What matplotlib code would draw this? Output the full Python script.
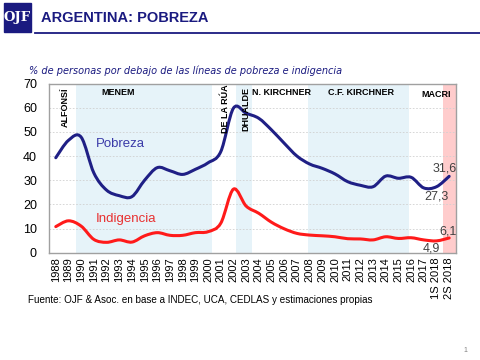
import numpy as np
import matplotlib
matplotlib.use("Agg")
import matplotlib.pyplot as plt
from matplotlib.path import Path
from matplotlib.patches import PathPatch, Rectangle

plt.rcParams['font.family'] = ['Liberation Sans', 'DejaVu Sans']

# data
years = [str(y) for y in range(1988, 2018)] + ['1S 2018', '2S 2018']
pobreza = [39.3, 46.5, 47.8, 33.0, 25.9, 23.6, 23.2, 30.0, 35.2, 33.9,
           32.4, 34.5, 37.2, 41.8, 59.8, 57.7, 55.6, 50.8, 45.3, 40.0,
           36.7, 34.9, 32.6, 29.4, 27.9, 27.3, 31.7, 30.8, 31.2, 26.8,
           27.3, 31.6]
indigencia = [10.8, 13.2, 11.0, 5.5, 4.3, 5.3, 4.4, 7.0, 8.3, 7.2,
              7.2, 8.3, 8.7, 12.2, 26.3, 19.3, 16.3, 12.6, 9.9, 8.0,
              7.3, 7.0, 6.6, 5.8, 5.7, 5.3, 6.6, 5.9, 6.2, 5.3,
              4.9, 6.1]

# governments (start, end in category index units)
bands = [(1.6, 12.3), (14.2, 15.5), (19.9, 27.8)]
macri_band = (30.5, 31.5)


def smooth_path(x, y):
    pts = np.column_stack([x, y]).astype(float)
    verts = [pts[0]]
    codes = [Path.MOVETO]
    n = len(pts)
    for i in range(n - 1):
        p0 = pts[i - 1] if i > 0 else pts[i]
        p1 = pts[i]
        p2 = pts[i + 1]
        p3 = pts[i + 2] if i + 2 < n else pts[i + 1]
        c1 = p1 + (p2 - p0) / 6.0
        c2 = p2 - (p3 - p1) / 6.0
        verts += [c1, c2, p2]
        codes += [Path.CURVE4] * 3
    return Path(verts, codes)


fig = plt.figure(figsize=(4.8, 3.6), dpi=100)
ax = fig.add_axes([0.103, 0.298, 0.846, 0.47])

x = np.arange(len(years))
for a, b in bands:
    ax.axvspan(a, b, color='#e6f3f9', lw=0, zorder=0)
ax.axvspan(*macri_band, color='#ffcccc', lw=0, zorder=0)

ax.add_patch(PathPatch(smooth_path(x, pobreza), fill=False,
                       ec='#1f1f85', lw=2.2, capstyle='round', zorder=3))
ax.add_patch(PathPatch(smooth_path(x, indigencia), fill=False,
                       ec='#ff1a1a', lw=2.2, capstyle='round', zorder=3))

ax.set_xlim(-0.5, 31.5)
ax.set_ylim(0, 70)
ax.set_yticks(range(0, 71, 10))
ax.set_xticks(x)
ax.set_xticklabels(years, rotation=90, fontsize=8)
ax.tick_params(axis='y', labelsize=9, length=0, pad=9)
ax.tick_params(axis='x', length=0, pad=3)
ax.grid(axis='y', color='#d0d0d0', lw=0.6, ls=(0, (2, 2)))
ax.set_axisbelow(True)
for s in ax.spines.values():
    s.set_color('#a0a0a0')
    s.set_linewidth(1)

# government labels
lab = dict(fontsize=6.5, fontweight='bold', color='black', zorder=4)
ax.text(0.75, 68.5, 'ALFONSÍ', rotation=90, ha='center', va='top', **lab)
ax.text(4.9, 68, 'MENEM', ha='center', va='top', **lab)
ax.text(13.35, 69.5, 'DE LA RÚA', rotation=90, ha='center', va='top', **lab)
ax.text(14.95, 68.5, 'DHUALDE', rotation=90, ha='center', va='top', **lab)
ax.text(17.75, 68, 'N. KIRCHNER', ha='center', va='top', **lab)
ax.text(24.05, 68, 'C.F. KIRCHNER', ha='center', va='top', **lab)
ax.text(30.0, 67.5, 'MACRI', ha='center', va='top', **lab)

ax.text(5.1, 45, 'Pobreza', color='#3a3aa8', fontsize=9.5, ha='center', va='center')
ax.text(5.5, 14, 'Indigencia', color='#e83030', fontsize=9.5, ha='center', va='center')

val = dict(fontsize=9, color='#404040', ha='center', va='center')
ax.text(30.65, 35.0, '31,6', **val)
ax.text(30.0, 23.2, '27,3', **val)
ax.text(30.95, 8.8, '6,1', **val)
ax.text(29.6, 1.9, '4,9', **val)

# header
fig.patches.append(Rectangle((4 / 480, 1 - 32 / 360), 27 / 480, 29 / 360,
                             transform=fig.transFigure, color='#1a1a80'))
fig.text(17.5 / 480, 1 - 18 / 360, 'OJF', color='white', fontsize=9.5,
         fontweight='bold', family='DejaVu Serif', ha='center', va='center')
fig.text(41 / 480, 1 - 17.5 / 360, 'ARGENTINA: POBREZA', color='#1a1a80',
         fontsize=10.5, fontweight='bold', va='center')
fig.lines.append(plt.Line2D([35 / 480, 1], [1 - 32.5 / 360] * 2,
                            transform=fig.transFigure, color='#1a1a80', lw=1.3))
fig.text(29 / 480, 1 - 71 / 360,
         '% de personas por debajo de las líneas de pobreza e indigencia',
         color='#1a1a80', fontsize=7, style='italic', family='DejaVu Sans',
         va='center')
fig.text(28 / 480, 1 - 300 / 360,
         'Fuente: OJF & Asoc. en base a INDEC, UCA, CEDLAS y estimaciones propias',
         fontsize=7.1, va='center')
fig.text(463 / 480, 1 - 350 / 360, '1', fontsize=5, color='#808080', va='center')

fig.savefig('out.png', dpi=100)
